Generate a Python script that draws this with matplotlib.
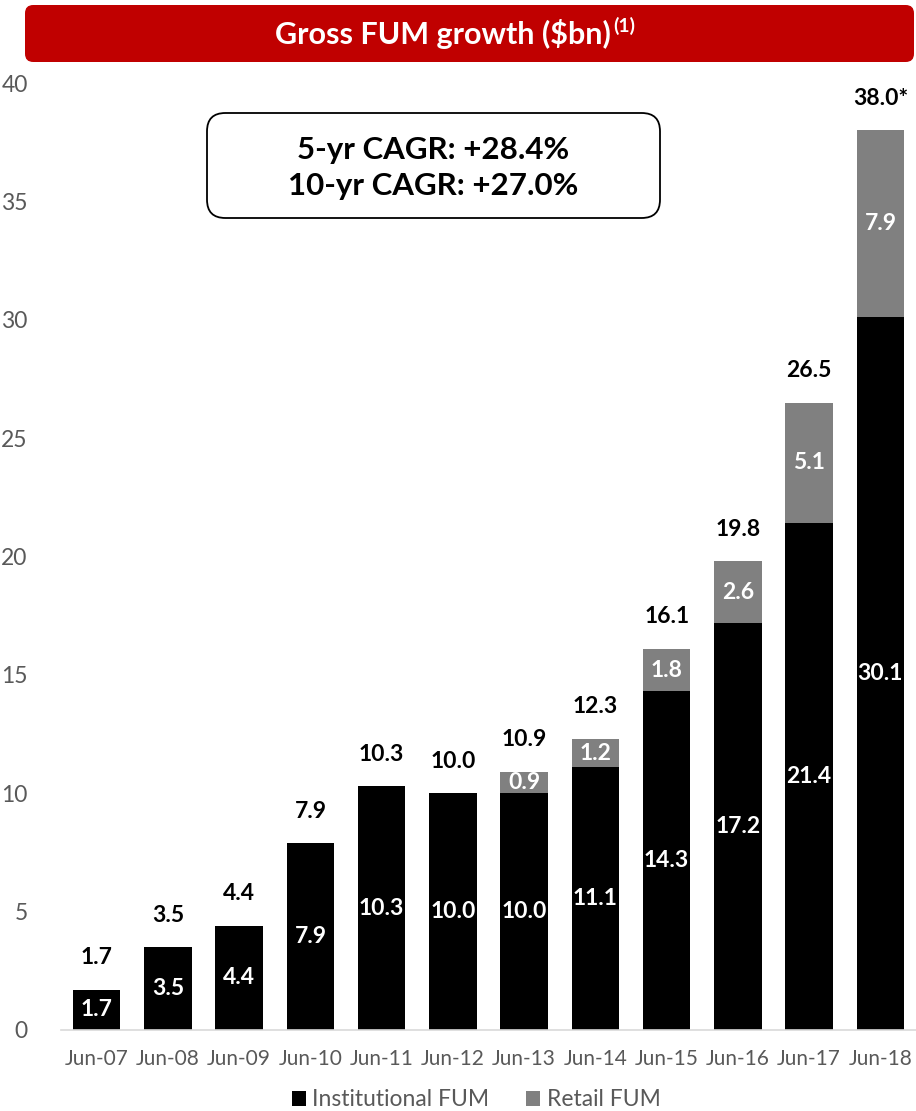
import numpy as np
import matplotlib.pyplot as plt
from matplotlib.patches import FancyBboxPatch

plt.rcParams['font.family'] = ['Lato', 'DejaVu Sans']

periods = ['Jun-07', 'Jun-08', 'Jun-09', 'Jun-10', 'Jun-11', 'Jun-12',
           'Jun-13', 'Jun-14', 'Jun-15', 'Jun-16', 'Jun-17', 'Jun-18']
institutional = [1.7, 3.5, 4.4, 7.9, 10.3, 10.0, 10.0, 11.1, 14.3, 17.2, 21.4, 30.1]
retail = [0, 0, 0, 0, 0, 0, 0.9, 1.2, 1.8, 2.6, 5.1, 7.9]
totals = [1.7, 3.5, 4.4, 7.9, 10.3, 10.0, 10.9, 12.3, 16.1, 19.8, 26.5, 38.0]
total_labels = ['1.7', '3.5', '4.4', '7.9', '10.3', '10.0', '10.9', '12.3',
                '16.1', '19.8', '26.5', '38.0*']

W, H = 916, 1111
fig = plt.figure(figsize=(W / 100, H / 100), dpi=100)
ax = fig.add_axes([61 / W, 81 / H, 1 - 61 / W, 947 / H])

x = np.arange(len(periods))
bw = 0.67
b1 = ax.bar(x, institutional, bw, color='black', label='Institutional FUM')
b2 = ax.bar(x, retail, bw, bottom=institutional, color='#808080', label='Retail FUM')

for i in x:
    ax.text(i, institutional[i] / 2, f'{institutional[i]:.1f}', ha='center', va='center',
            color='white', fontsize=16.5, fontweight='bold')
    if retail[i] > 0:
        ax.text(i, institutional[i] + retail[i] / 2, f'{retail[i]:.1f}', ha='center',
                va='center', color='white', fontsize=16.5, fontweight='bold')
    ax.text(i, totals[i] + 1.35, total_labels[i], ha='center', va='center',
            color='black', fontsize=16.5, fontweight='bold', clip_on=False)

ax.set_xlim(-0.5, len(periods) - 0.5)
ax.set_ylim(0, 40)
ax.set_yticks(range(0, 41, 5))
ax.set_xticks(x)
ax.set_xticklabels(periods)
ax.tick_params(axis='both', length=0, colors='#595959')
ax.tick_params(axis='y', labelsize=16.5, pad=24)
ax.tick_params(axis='x', labelsize=15, pad=14)
for s in ['top', 'right', 'left']:
    ax.spines[s].set_visible(False)
ax.spines['bottom'].set_color('#D9D9D9')
ax.spines['bottom'].set_linewidth(1.2)

# title banner
banner = FancyBboxPatch((25 / W, 1 - 62 / H), 889 / W, 57 / H,
                        boxstyle='round,pad=0,rounding_size=0.009',
                        transform=fig.transFigure, facecolor='#C00000',
                        edgecolor='none', mutation_aspect=W / H)
fig.patches.append(banner)
fig.text(611 / W, 1 - 34 / H, 'Gross FUM growth (\\$bn)', ha='right', va='center',
         color='white', fontsize=22, fontweight='bold')
fig.text(613 / W, 1 - 26 / H, '(1)', ha='left', va='center',
         color='white', fontsize=14, fontweight='bold')

# CAGR box
box = FancyBboxPatch((207 / W, 1 - 218 / H), 453 / W, 105 / H,
                     boxstyle='round,pad=0,rounding_size=0.02',
                     transform=fig.transFigure, facecolor='white',
                     edgecolor='black', linewidth=1.3, mutation_aspect=W / H)
fig.patches.append(box)
fig.text(433 / W, 1 - 150 / H, '5-yr CAGR: +28.4%', ha='center', va='center',
         fontsize=22.5, fontweight='bold')
fig.text(433 / W, 1 - 186 / H, '10-yr CAGR: +27.0%', ha='center', va='center',
         fontsize=22.5, fontweight='bold')

leg = fig.legend(handles=[b1, b2], loc='center', bbox_to_anchor=(0.52, 1 - 1100 / H),
                 ncol=2, frameon=False, fontsize=16.5, handlelength=0.6,
                 handleheight=0.6, handletextpad=0.3, columnspacing=1.6)
for t in leg.get_texts():
    t.set_color('#595959')

plt.savefig('out.png', dpi=100)
plt.close()
